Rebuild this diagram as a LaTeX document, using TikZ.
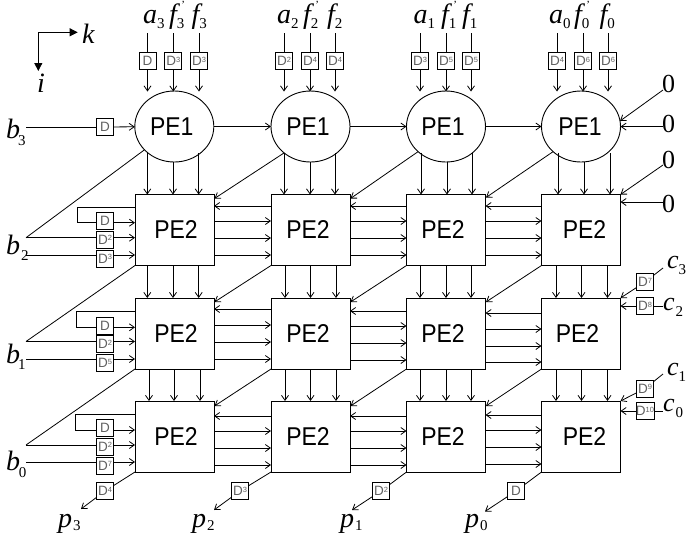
\documentclass[tikz,border=0pt]{standalone}
\usepackage{graphicx}
\usepackage{fontspec}
\setmainfont{Liberation Serif}
\newfontfamily\pefont{Liberation Sans}
\usetikzlibrary{arrows.meta,shapes.geometric}
\definecolor{dgray}{gray}{0.38}
\newcommand{\petext}[2]{\hspace*{#2pt}\scalebox{1}[1.12]{\pefont\fontsize{23}{23}\selectfont #1}}
\newcommand{\dlab}[1]{\pefont\fontsize{13.5}{14}\selectfont D\raisebox{3.2pt}{\fontsize{7.5}{8}\selectfont #1}}
% symbol with subscript: letter, gap, subscript, drop
\newcommand{\sym}[4]{\fontsize{28}{28}\selectfont\itshape #1\hspace*{#2pt}\raisebox{-#4pt}{\upshape\fontsize{15}{15}\selectfont #3}}
\newcommand{\symc}[3]{\fontsize{26}{26}\selectfont\itshape c\hspace*{#1pt}\raisebox{-#3pt}{\upshape\fontsize{15}{15}\selectfont #2}}
\newcommand{\symp}[1]{\fontsize{28}{28}\selectfont\itshape f\raisebox{-5pt}{\upshape\fontsize{15}{15}\selectfont #1}\hspace*{-3pt}\raisebox{15pt}{\upshape\fontsize{11}{11}\selectfont '}}
\tikzset{
  >={Straight Barb[length=5pt,width=7pt]},
  every path/.style={line width=.8pt},
  dbox/.style={draw,fill=white,text=dgray,minimum width=17pt,minimum height=17pt,inner sep=0pt,outer sep=0pt,line width=.9pt},
  pebox/.style={draw,minimum width=79pt,minimum height=71pt,inner sep=0pt,outer sep=0pt,line width=.9pt},
  peell/.style={draw,ellipse,minimum width=79pt,minimum height=71pt,inner sep=0pt,outer sep=0pt,line width=.9pt},
  lab/.style={anchor=base west,inner sep=0pt,outer sep=0pt},
  axistip/.style={-{Triangle[length=8pt,width=8pt]},line width=.8pt}
}
\begin{document}
\begin{tikzpicture}[x=1pt,y=-1pt]
\useasboundingbox (0,0) rectangle (686,539);
% PE1 nodes
\foreach \c/\cx/\dx in {1/174.3/-5,2/310.5/-5,3/446/-6,4/581/-2}{
  \node[peell] (e\c) at (\cx,126.5) {\petext{PE1}{\dx}};
}
% PE2 nodes
\foreach \c/\cx/\dxa/\dxb/\dxc in {1/174.5/3/3/3,2/310.5/-5/-5/-5,3/446/-6/-6/-6,4/581/7/-7/7}{
  \node[pebox] (b1\c) at (\cx,230) {\petext{PE2}{\dxa}};
  \node[pebox] (b2\c) at (\cx,333.5) {\petext{PE2}{\dxb}};
  \node[pebox] (b3\c) at (\cx,436.5) {\petext{PE2}{\dxc}};
}
% Axes
\coordinate (corner) at (38.3,32.3);
\coordinate (ktip) at (77.7,32.3);
\coordinate (itip) at (38.3,71);
\node[lab] (k) at (82,43) {\fontsize{28}{28}\selectfont\itshape k};
\node[lab] (i) at (37,92) {\fontsize{28}{28}\selectfont\itshape i};
\draw[axistip] (corner) -- (ktip);
\draw[axistip] (corner) -- (itip);
% Top inputs
\foreach \c/\xa/\xb/\xc/\la/\lb/\lc/\sa/\aa/\ab/\ac in {
  1/147.5/173.3/199/{}/3/3/3/143/169/191.5,
  2/284/310/335/2/4/4/2/277/303/327,
  3/420/446/471/3/5/5/1/413.5/441/462,
  4/557/583/608/4/6/6/0/549/574/599.5}{
  \node[dbox] (ta\c) at (\xa,61) {\dlab{\la}};
  \node[dbox] (tb\c) at (\xb,61) {\dlab{\lb}};
  \node[dbox] (tc\c) at (\xc,61) {\dlab{\lc}};
  \node[lab] (la\c) at (\aa,23) {\sym{a}{0}{\sa}{5}};
  \node[lab] (lb\c) at (\ab,23) {\symp{\sa}};
  \node[lab] (lc\c) at (\ac,23) {\sym{f}{0}{\sa}{5}};
  \coordinate (fa\c) at (\xa,33);
  \coordinate (fb\c) at (\xb,33);
  \coordinate (fc\c) at (\xc,33);
  \draw (fa\c) -- (ta\c);
  \draw (fb\c) -- (tb\c);
  \draw (fc\c) -- (tc\c);
  \draw[->] (ta\c) -- (\xa,91.5);
  \draw[->] (tb\c) -- (\xb,91.5);
  \draw[->] (tc\c) -- (\xc,91.5);
}
% PE1 to PE2, vertical
\foreach \c/\xa/\xb/\xc in {1/147.3/173/198.7,2/284/310/335,3/421/447/472,4/558/584/610}{
  \draw[->] (\xa,152.5) -- (b1\c.north -| \xa,0);
  \draw[->] (\xb,162) -- (b1\c.north -| \xb,0);
  \draw[->] (\xc,153) -- (b1\c.north -| \xc,0);
}
% PE2 to PE2, vertical
\foreach \c/\xa/\xb/\xc/\ua/\ub/\uc in {1/147.3/173/198.7/149/174/200,2/285/310.5/336/285/310.5/336,3/420/446/471/420/446/471,4/556/581.5/607.5/556/581.5/607.5}{
  \draw[->] (b1\c.south -| \xa,0) -- (b2\c.north -| \xa,0);
  \draw[->] (b1\c.south -| \xb,0) -- (b2\c.north -| \xb,0);
  \draw[->] (b1\c.south -| \xc,0) -- (b2\c.north -| \xc,0);
  \draw[->] (b2\c.south -| \ua,0) -- (b3\c.north -| \ua,0);
  \draw[->] (b2\c.south -| \ub,0) -- (b3\c.north -| \ub,0);
  \draw[->] (b2\c.south -| \uc,0) -- (b3\c.north -| \uc,0);
}
% PE1 horizontal
\draw[->] (e1) -- (e2);
\draw[->] (e2) -- (e3);
\draw[->] (e3) -- (e4);
% PE1 diagonals
\draw[->] (e2.225) -- ([shift={(.5pt,-4pt)}]b11.north east);
\draw[->] (e3.222) -- ([shift={(.5pt,-4pt)}]b12.north east);
\draw[->] (e4.222) -- ([shift={(.5pt,-3pt)}]b13.north east);
% PE2 horizontal
\foreach \r/\a/\b/\ya/\yb/\yc/\yd in {
  1/1/2/221/238/255/206,1/2/3/221/238/255/206,1/3/4/221/238/255/206,
  2/1/2/325/342/359/309,2/2/3/326/343/360/311,2/3/4/329/346/362/313,
  3/1/2/431/448/465/416,3/2/3/431/448/465/416,3/3/4/430/447/464/415}{
  \draw[->] (b\r\a.east |- 0,\ya) -- (b\r\b.west |- 0,\ya);
  \draw[->] (b\r\a.east |- 0,\yb) -- (b\r\b.west |- 0,\yb);
  \draw[->] (b\r\a.east |- 0,\yc) -- (b\r\b.west |- 0,\yc);
  \draw[->] (b\r\b.west |- 0,\yd) -- (b\r\a.east |- 0,\yd);
}
% PE2 diagonals
\foreach \ra/\rb/\off in {1/2/4,2/3/5}{
  \draw[->] (b\ra2.south west) -- ([shift={(.5pt,-\off pt)}]b\rb1.north east);
  \draw[->] (b\ra3.south west) -- ([shift={(.5pt,-\off pt)}]b\rb2.north east);
  \draw[->] (b\ra4.south west) -- ([shift={(.5pt,-\off pt)}]b\rb3.north east);
}
% Left side
\node[lab] (lb3) at (6,138) {\sym{b}{-2}{3}{7}};
\node[lab] (lb2) at (6,254) {\sym{b}{1}{2}{6}};
\node[lab] (lb1) at (6,363) {\sym{b}{-2}{1}{6}};
\node[lab] (lb0) at (6,470) {\sym{b}{-1}{0}{7}};
\node[dbox] (d0) at (105,127) {\dlab{}};
\coordinate (s3) at (26,127);
\draw (s3) -- (d0);
\draw[->] (d0) -- (e1);
\foreach \r/\ya/\yb/\yc/\cy/\fy/\fx/\supn/\sy/\sz in {
  1/220.7/239.5/258.5/222.7/207/77/3/237.7/255,
  2/325.7/344/363/327.3/311/76.7/5/341.5/359,
  3/428.3/446.5/465.5/430/414.7/75.5/7/445/462}{
  \draw[->] (b\r1.west |- 0,\fy) -- (\fx,\fy) -- (\fx,\cy) -- (b\r1.west |- 0,\cy);
  \coordinate (sa\r) at (26,\sy);
  \coordinate (sb\r) at (26,\sz);
  \draw[->] (sa\r) -- (b\r1.west |- sa\r);
  \draw[->] (sb\r) -- (b\r1.west |- sb\r);
  \node[dbox] (x\r) at (105,\ya) {\dlab{}};
  \node[dbox] (y\r) at (105,\yb) {\dlab{2}};
  \node[dbox] (z\r) at (105,\yc) {\dlab{\supn}};
}
\draw (e1.218) -- (sa1);
\draw (b11.south west) -- (sa2);
\draw (b21.south west) -- (sa3);
% Right side zeros
\node (z1) at (668.5,84) {\fontsize{26}{26}\selectfont 0};
\node (z2) at (668.5,123.5) {\fontsize{26}{26}\selectfont 0};
\node (z3) at (668.5,160) {\fontsize{26}{26}\selectfont 0};
\node (z4) at (668.5,204) {\fontsize{26}{26}\selectfont 0};
\coordinate (q1) at (663,90);
\coordinate (q2) at (663,126.6);
\coordinate (q3) at (663,165);
\coordinate (q4) at (663,202);
\draw[->] (q1) -- (e4.8);
\draw[->] (q2) -- (e4.east |- q2);
\draw[->] (q3) -- (b14.north east);
\draw[->] (q4) -- (b14.east |- q4);
% Right side c
\node[lab] (c3) at (667,268) {\symc{0}{3}{6}};
\node[lab] (c2) at (663,310) {\symc{1}{2}{6}};
\node[lab] (c1) at (667,375) {\symc{0}{1}{6}};
\node[lab] (c0) at (663,411.7) {\symc{1}{0}{6}};
\node[dbox] (d7) at (645,282) {\dlab{7}};
\node[dbox] (d8) at (645,306) {\dlab{8}};
\node[dbox] (d9) at (645,388.5) {\dlab{9}};
\node[dbox] (d10) at (645,411) {\dlab{10}};
\coordinate (r3) at (663,268);
\coordinate (r1) at (663,374);
\draw (r3) -- (d7);
\draw[->] (d7) -- (b24.north east);
\draw (d8) -- (c2.west |- d8);
\draw[->] (d8) -- (b24.east |- d8);
\draw (r1) -- (d9);
\draw[->] (d9) -- (b34.north east);
\draw (d10) -- (c0.west |- d10);
\draw[->] (d10) -- (b34.east |- d10);
% Bottom outputs
\foreach \c/\cx/\lbl/\tx/\ty/\px/\s in {
  1/105/4/81/509/58/3,
  2/240/3/214/510/192/2,
  3/381/2/352/510/340/1,
  4/516/{}/485/511.5/465/0}{
  \node[dbox] (o\c) at (\cx,491) {\dlab{\lbl}};
  \coordinate (ot\c) at (\tx,\ty);
  \node[lab] (p\c) at (\px,527) {\sym{p}{1}{\s}{3}};
  \draw (b3\c.south west) -- (o\c);
  \draw[->] (o\c) -- (ot\c);
}
\end{tikzpicture}
\end{document}
